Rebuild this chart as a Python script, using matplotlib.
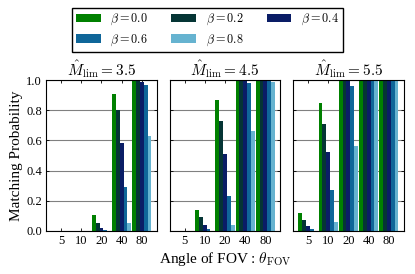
import numpy as np
import matplotlib
matplotlib.use('Agg')
import matplotlib.pyplot as plt

plt.rcParams['font.family'] = ['Liberation Serif', 'DejaVu Serif']
plt.rcParams['mathtext.fontset'] = 'cm'

angles = ['5', '10', '20', '40', '80']
betas = ['0.0', '0.2', '0.4', '0.6', '0.8']
m_lims = ['3.5', '4.5', '5.5']
colors = ['#008000', '#053535', '#0a1d66', '#0f6699', '#66b3d0']

# rows: beta, cols: angle
prob_35 = [
    [0.0, 0.003, 0.105, 0.91, 1.0],
    [0.0, 0.0, 0.05, 0.80, 1.0],
    [0.0, 0.0, 0.02, 0.58, 0.99],
    [0.0, 0.0, 0.005, 0.29, 0.97],
    [0.0, 0.0, 0.0, 0.05, 0.63],
]
prob_45 = [
    [0.003, 0.14, 0.87, 1.0, 1.0],
    [0.0, 0.09, 0.73, 1.0, 1.0],
    [0.0, 0.04, 0.51, 1.0, 1.0],
    [0.0, 0.01, 0.23, 0.98, 1.0],
    [0.0, 0.0, 0.04, 0.66, 0.99],
]
prob_55 = [
    [0.12, 0.85, 1.0, 1.0, 1.0],
    [0.07, 0.71, 1.0, 1.0, 1.0],
    [0.035, 0.52, 1.0, 1.0, 1.0],
    [0.01, 0.27, 0.96, 1.0, 1.0],
    [0.0, 0.06, 0.56, 1.0, 1.0],
]
all_probs = [prob_35, prob_45, prob_55]

fig, axes = plt.subplots(1, 3, figsize=(4.15, 2.74), dpi=100, sharey=True)
fig.subplots_adjust(left=0.111, right=0.973, bottom=0.157, top=0.708, wspace=0.115)

x = np.arange(len(angles))
width = 0.19
handles = []
for ax, m, probs in zip(axes, m_lims, all_probs):
    for j, (b, c) in enumerate(zip(betas, colors)):
        h = ax.bar(x + (j - 2) * width, probs[j], width, color=c,
                   label=r'$\beta = %s$' % b, zorder=2)
        if ax is axes[0]:
            handles.append(h)
    ax.set_xlim(-0.74, 4.74)
    ax.set_ylim(0, 1.0)
    ax.set_xticks(x)
    ax.set_xticklabels(angles, fontsize=9)
    ax.set_yticks([0.0, 0.2, 0.4, 0.6, 0.8, 1.0])
    ax.set_yticklabels(['0.0', '0.2', '0.4', '0.6', '0.8', '1.0'], fontsize=9)
    ax.grid(axis='y', color='gray', linewidth=0.8, zorder=0)
    ax.set_axisbelow(True)
    ax.tick_params(direction='in', top=True, right=True, length=2.5, width=0.6, pad=3)
    for s in ax.spines.values():
        s.set_linewidth(0.8)
    ax.set_title(r'$\hat{M}_{\rm lim} = %s$' % m, fontsize=11, pad=3)

axes[0].set_ylabel('Matching Probability', fontsize=11, labelpad=2)
axes[1].set_xlabel(r'Angle of FOV : $\theta_{\rm FOV}$', fontsize=11, labelpad=2)

order = [0, 3, 1, 4, 2]
leg = fig.legend([handles[i] for i in order], [r'$\beta = %s$' % betas[i] for i in order],
                 loc='upper center', bbox_to_anchor=(0.5, 0.972), ncol=3, fontsize=8.8,
                 fancybox=False, edgecolor='black', framealpha=1,
                 handlelength=2.0, handleheight=0.7, handletextpad=0.8,
                 columnspacing=1.9, borderpad=0.35, labelspacing=0.42,
                 borderaxespad=0)
leg.get_frame().set_linewidth(1.0)

fig.savefig('out.png', dpi=100)
